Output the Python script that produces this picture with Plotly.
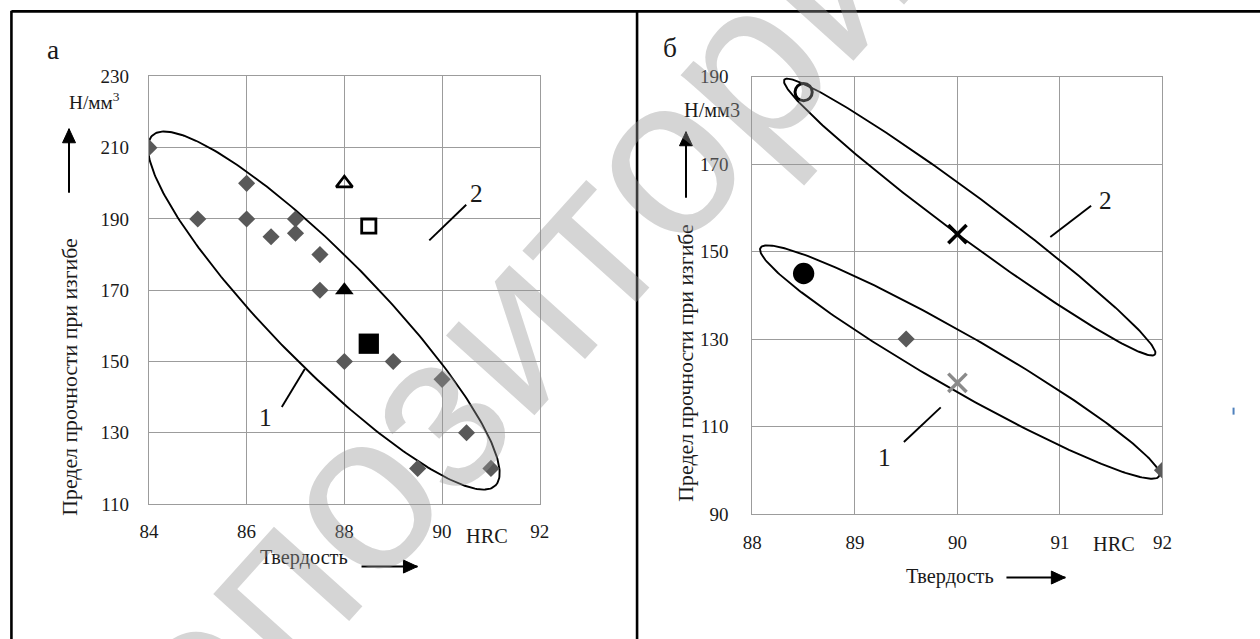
import numpy as np
import plotly.graph_objects as go

# ---------------- data ----------------
# panel "а"
a_xticks = [84, 86, 88, 90, 92]
a_yticks = [110, 130, 150, 170, 190, 210, 230]
a_diamond_x = [84, 85, 86, 86, 86.5, 87, 87, 87.5, 87.5, 88, 89, 90, 90.5, 89.5, 91]
a_diamond_y = [210, 190, 200, 190, 185, 190, 186, 180, 170, 150, 150, 145, 130, 120, 120]
a_open_tri_x, a_open_tri_y = [88], [200]
a_open_sq_x, a_open_sq_y = [88.5], [188]
a_tri_x, a_tri_y = [88], [170]
a_sq_x, a_sq_y = [88.5], [155]

# panel "б"
b_xticks = [88, 89, 90, 91, 92]
b_yticks = [90, 110, 130, 150, 170, 190]
b_diamond_x = [89.5, 92]
b_diamond_y = [130, 100]
b_open_circle_x, b_open_circle_y = [88.5], [186.5]
b_circle_x, b_circle_y = [88.5], [145]
b_black_x_x, b_black_x_y = [90], [154]
b_gray_x_x, b_gray_x_y = [90], [120]

# ellipses (centre + two conjugate semi-axis vectors, data units)
ell_a1 = dict(cx=87.58, cy=164.3, ux=3.511, uy=-49.1, vx=-0.788, vy=-10.63)
ell_b2 = dict(cx=90.12, cy=157.9, ux=1.808, uy=-31.44, vx=-0.1216, vy=-3.863)
ell_b1 = dict(cx=90.023, cy=124.74, ux=1.944, uy=-26.13, vx=-0.1329, vy=-5.462)

# ---------------- page geometry ----------------
FW, FH = 1270, 650            # figure size in page pixels
SX, SY = 1260 / 1278, 639 / 660   # photo scaling observed
PADX, PADY = 9, 10.5

def PX(r):
    """reference-picture x pixel -> paper fraction"""
    return (r / SX - PADX) / FW

def PY(r):
    """reference-picture y pixel -> paper fraction"""
    return 1 - (r / SY - PADY) / FH

K = 1 / SX  # size compensation
SERIF = "Liberation Serif"
TXT = "#1a1a1a"
GRID = "#9c9c9c"

fig = go.Figure()

def ellipse(e, xa, ya):
    t = np.linspace(0, 2 * np.pi, 300)
    x = e["cx"] + e["ux"] * np.cos(t) + e["vx"] * np.sin(t)
    y = e["cy"] + e["uy"] * np.cos(t) + e["vy"] * np.sin(t)
    fig.add_trace(go.Scatter(x=x, y=y, mode="lines", xaxis=xa, yaxis=ya,
                             line=dict(color="black", width=1.9), hoverinfo="skip"))

ellipse(ell_a1, "x", "y")
ellipse(ell_b2, "x2", "y2")
ellipse(ell_b1, "x2", "y2")

def pts(x, y, xa, ya, symbol, size, color, lw=0, lc=None):
    fig.add_trace(go.Scatter(x=x, y=y, mode="markers", xaxis=xa, yaxis=ya,
                             marker=dict(symbol=symbol, size=size * K, color=color,
                                         line=dict(width=lw, color=lc or color))))

pts(a_diamond_x, a_diamond_y, "x", "y", "diamond", 13, "#595959")
pts(a_open_tri_x, a_open_tri_y, "x", "y", "triangle-up-open", 14, "black", 2.6)
pts(a_open_sq_x, a_open_sq_y, "x", "y", "square-open", 14, "black", 2.8)
pts(a_tri_x, a_tri_y, "x", "y", "triangle-up", 16, "black")
pts(a_sq_x, a_sq_y, "x", "y", "square", 20, "black")

pts(b_diamond_x, b_diamond_y, "x2", "y2", "diamond", 13, "#595959")
pts(b_open_circle_x, b_open_circle_y, "x2", "y2", "circle-open", 17, "black", 3)
pts(b_circle_x, b_circle_y, "x2", "y2", "circle", 21, "black")
pts(b_black_x_x, b_black_x_y, "x2", "y2", "x-thin-open", 18, "black", 3.5)
pts(b_gray_x_x, b_gray_x_y, "x2", "y2", "x-thin-open", 18, "#8a8a8a", 3.5)

axis_common = dict(showgrid=True, gridcolor=GRID, gridwidth=1, showline=True,
                   linecolor=GRID, linewidth=1, mirror=True, zeroline=False,
                   ticks="", tickfont=dict(family=SERIF, size=19, color=TXT),
                   fixedrange=True)

fig.update_layout(
    width=FW, height=FH,
    margin=dict(l=0, r=0, t=0, b=0),
    paper_bgcolor="white", plot_bgcolor="white",
    showlegend=False,
    xaxis=dict(axis_common, domain=[PX(148), PX(539.6)], range=[84, 92],
               tickvals=a_xticks, ticktext=[str(v) for v in a_xticks],
               ticklabelstandoff=10, anchor="y"),
    yaxis=dict(axis_common, domain=[PY(504.5), PY(76.6)], range=[110, 230],
               tickvals=a_yticks, ticktext=[str(v) for v in a_yticks],
               ticklabelstandoff=15, anchor="x"),
    xaxis2=dict(axis_common, domain=[PX(752.5), PX(1163.3)], range=[88, 92],
                tickvals=b_xticks, ticktext=[str(v) for v in b_xticks],
                ticklabelstandoff=11, anchor="y2"),
    yaxis2=dict(axis_common, domain=[PY(514.3), PY(77)], range=[90, 190],
                tickvals=b_yticks, ticktext=[str(v) for v in b_yticks],
                ticklabelstandoff=19, anchor="x2"),
)

ann = []
def txt(x, y, text, size=18, angle=0, family=SERIF, color=TXT):
    ann.append(dict(x=PX(x), y=PY(y), xref="paper", yref="paper", text=text,
                    showarrow=False, textangle=angle, xanchor="center", yanchor="middle",
                    font=dict(family=family, size=size * K, color=color)))

txt(52, 50, "а", 27)
txt(670, 48, "б", 27)
txt(69, 378, "Предел прочности при изгибе", 21.5, -90)
txt(686, 363, "Предел прочности при изгибе", 21.5, -90)
txt(94, 101, "Н/мм<sup>3</sup>", 19)
txt(712, 110, "Н/мм3", 20)
txt(487, 536, "HRC", 20)
txt(1115, 544, "HRC", 20)
txt(303, 558, "Твердость", 20)
txt(950, 577, "Твердость", 20)

def dlabel(x, y, text, xa, ya):
    ann.append(dict(x=x, y=y, xref=xa, yref=ya, text=text, showarrow=False,
                    font=dict(family=SERIF, size=25 * K, color=TXT)))

dlabel(90.70, 197.4, "2", "x", "y")
dlabel(86.39, 134.5, "1", "x", "y")
dlabel(91.44, 161.9, "2", "x2", "y2")
dlabel(89.29, 103.1, "1", "x2", "y2")

# watermark
ann.append(dict(x=PX(724), y=PY(88), xref="paper", yref="paper",
                text="Репозиторий БНТУ", showarrow=False, textangle=-48,
                xanchor="center", yanchor="middle",
                font=dict(family="Liberation Sans", size=222 * K,
                          color="rgba(150,150,150,0.40)")))

fig.update_layout(annotations=ann)

shapes = []
def seg(x0, y0, x1, y1, xa, ya, w=1.9, c="black"):
    shapes.append(dict(type="line", x0=x0, y0=y0, x1=x1, y1=y1, xref=xa, yref=ya,
                       line=dict(color=c, width=w)))

def arrow_px(x0, y0, x1, y1):
    # shaft + filled head, given in reference-picture pixels
    seg(PX(x0), PY(y0), PX(x1), PY(y1), "paper", "paper", 2)
    dx, dy = x1 - x0, y1 - y0
    L = (dx * dx + dy * dy) ** 0.5
    ux, uy = dx / L, dy / L
    hl, hw = 14, 6.5
    bx, by = x1 - ux * hl, y1 - uy * hl
    p1 = (bx - uy * hw, by + ux * hw)
    p2 = (bx + uy * hw, by - ux * hw)
    path = "M {} {} L {} {} L {} {} Z".format(PX(x1), PY(y1), PX(p1[0]), PY(p1[1]),
                                               PX(p2[0]), PY(p2[1]))
    shapes.append(dict(type="path", path=path, xref="paper", yref="paper",
                       fillcolor="black", line=dict(color="black", width=1)))

arrow_px(68, 193, 68, 129)
arrow_px(686, 198, 686, 132)
arrow_px(361, 567, 417, 567)
arrow_px(1007, 578, 1066, 578)

# leader lines
seg(89.738, 183.98, 90.494, 193.99, "x", "y")
seg(86.72, 137.26, 87.19, 147.91, "x", "y")
seg(90.906, 153.34, 91.304, 160.5, "x2", "y2")
seg(89.478, 106.46, 89.837, 114.38, "x2", "y2")

# table borders
seg(PX(10.3), PY(11.5), 1, PY(11.5), "paper", "paper", 2.6)
seg(PX(10.3), PY(11), PX(10.3), 0, "paper", "paper", 2.6)
seg(PX(637), PY(11), PX(637), 0, "paper", "paper", 2.6)
# small blue mark at the right
seg(PX(1234.5), PY(408), PX(1234.5), PY(415), "paper", "paper", 2, "#4f81bd")

fig.update_layout(shapes=shapes)

fig.write_html("out.html", config={"displayModeBar": False},
               post_script="document.documentElement.style.margin='0';"
                           "document.body.style.margin='0';"
                           "document.body.style.overflow='hidden';"
                           "document.documentElement.style.overflow='hidden';")
